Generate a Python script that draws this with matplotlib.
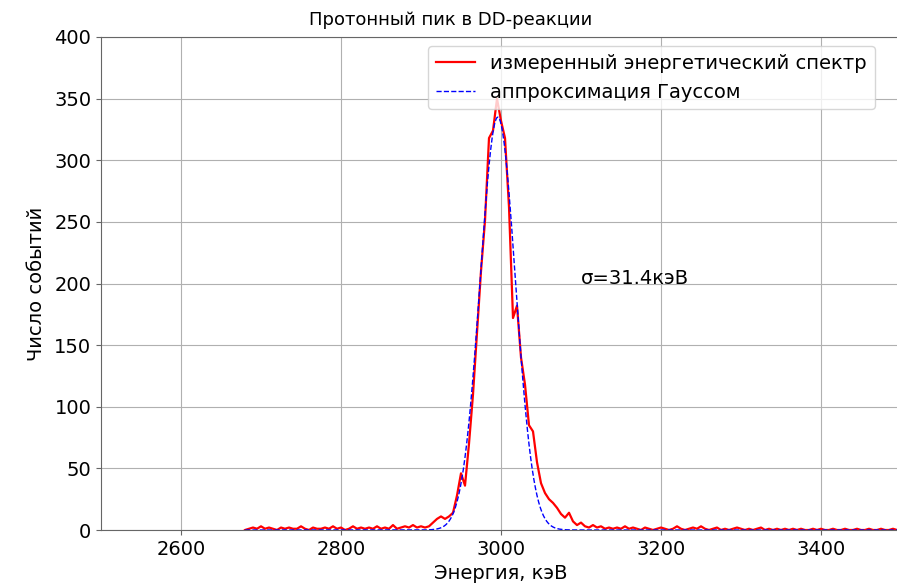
import numpy as np
import matplotlib.pyplot as plt

# energy channels, keV (5 keV bins)
energy = np.arange(2680, 3525, 5)

# measured counts per bin
counts = [
    0, 1, 2, 1, 3, 1, 2, 1, 0, 2,        # 2680-2725
    1, 2, 1, 1, 3, 1, 0, 2, 1, 1,        # 2730-2775
    2, 1, 3, 1, 2, 0, 1, 3, 1, 2,        # 2780-2825
    1, 2, 1, 3, 1, 2, 1, 4, 1, 2,        # 2830-2875
    3, 2, 4, 2, 3, 2, 3, 6, 9, 11,       # 2880-2925
    9, 11, 14, 28, 46, 36, 70, 110, 160, 210,   # 2930-2975
    251, 318, 324, 350, 332, 318, 262, 172, 182, 140,  # 2980-3025
    118, 85, 80, 55, 38, 30, 25, 22, 18, 13,    # 3030-3075
    10, 14, 7, 4, 6, 3, 2, 4, 2, 3,      # 3080-3125
    1, 2, 1, 2, 1, 3, 1, 2, 1, 0,        # 3130-3175
    2, 1, 0, 1, 2, 1, 0, 1, 3, 1,        # 3180-3225
    0, 1, 2, 1, 3, 1, 0, 1, 2, 0,        # 3230-3275
    1, 0, 1, 2, 1, 0, 1, 0, 1, 2,        # 3280-3325
    0, 1, 0, 1, 0, 1, 0, 1, 0, 1,        # 3330-3375
    0, 0, 1, 0, 1, 0, 0, 1, 0, 0,        # 3380-3425
    1, 0, 0, 1, 0, 0, 1, 0, 0, 1,        # 3430-3475
    0, 0, 1, 0, 0, 1, 0, 0, 1,           # 3480-3520
]

# gaussian fit parameters as drawn
g_amp = 335
g_mu = 2996
g_sigma = 22

g_energy = np.arange(2680, 3525, 1)
g_counts = g_amp * np.exp(-(g_energy - g_mu) ** 2 / (2 * g_sigma ** 2))

fig = plt.figure(figsize=(8.97, 5.83), dpi=100)
ax = fig.add_axes([101 / 897, 53 / 583, 800 / 897, 493 / 583])

ax.plot(energy, counts, color="r", linewidth=1.6, label="измеренный энергетический спектр")
ax.plot(g_energy, g_counts, "b--", linewidth=1, label="аппроксимация Гауссом")

ax.set_xlim(2500, 3500)
ax.set_ylim(0, 400)
ax.set_xticks([2600, 2800, 3000, 3200, 3400])
ax.grid(True, color="#b0b0b0", linewidth=0.8)
ax.tick_params(labelsize=14, color="#666666")
for s in ax.spines.values():
    s.set_color("#666666")

ax.text(3100, 200, "σ=31.4кэВ", fontsize=14)
ax.set_xlabel("Энергия, кэВ", fontsize=14, labelpad=4)
ax.set_ylabel("Число событий", fontsize=14, labelpad=6)
fig.text(451 / 897, 1 - 20 / 583, "Протонный пик в DD-реакции", fontsize=13,
         ha="center", va="center")
ax.legend(loc="upper left", fontsize=14, bbox_to_anchor=(428 / 897, 1 - 46 / 583),
          bbox_transform=fig.transFigure, borderaxespad=0)

plt.savefig("out.png", dpi=100)
plt.close()
